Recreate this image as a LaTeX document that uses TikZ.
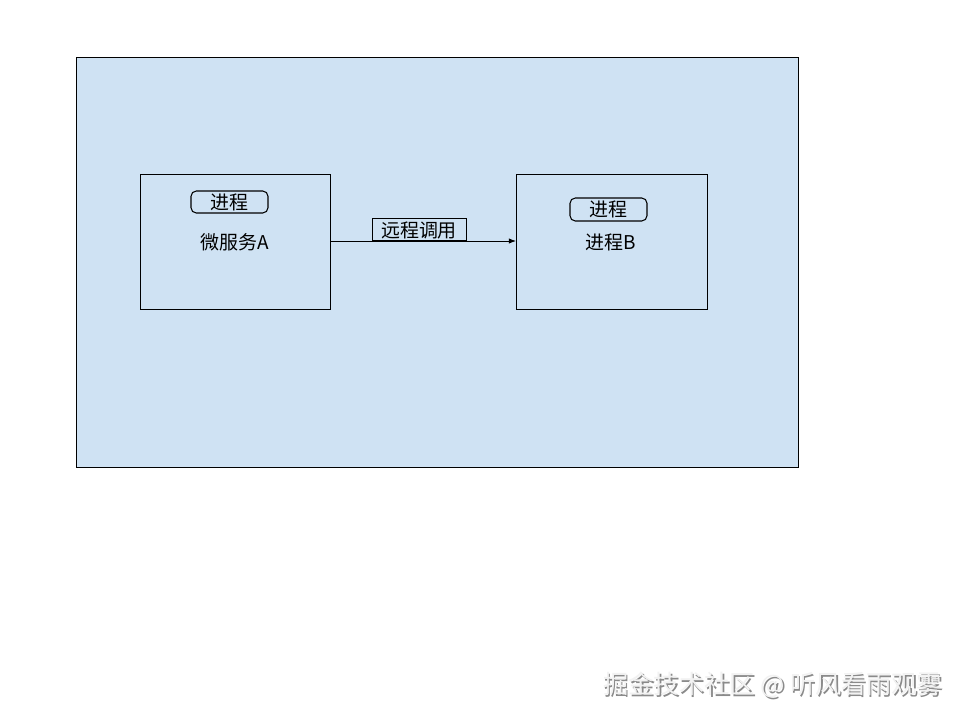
\documentclass[tikz,border=0pt]{standalone}
\usepackage{fontspec}
\setmainfont{Noto Sans CJK SC}
\newfontfamily\cjk{Noto Sans CJK SC}
\usetikzlibrary{arrows.meta}
\definecolor{bgblue}{HTML}{CFE2F3}
\definecolor{wmgray}{HTML}{8A8A8A}
\definecolor{wmlight}{HTML}{F2F2F2}
\tikzset{
  boxframe/.style={draw=black, line width=0.6pt},
  procbox/.style={draw=black, line width=0.6pt, rounded corners=3pt},
  lbl/.style={font=\cjk\fontsize{10.8}{12}\selectfont, inner sep=0pt},
  conn/.style={draw=black, line width=0.5pt, -{Latex[length=4pt,width=3pt]}},
  wm/.style={font=\cjk\fontsize{14.4}{16}\selectfont, inner sep=0pt, anchor=west}
}
\begin{document}
\begin{tikzpicture}[x=0.02cm, y=-0.02cm]
\useasboundingbox (0,0) rectangle (960,720);
\fill[white] (0,0) rectangle (960,720);
% outer container
\node[boxframe, fill=bgblue, minimum width=722*0.02cm, minimum height=410*0.02cm, anchor=north west, inner sep=0pt] (outer) at (76,57) {};
% microservice A
\node[boxframe, minimum width=190*0.02cm, minimum height=135*0.02cm, anchor=north west, inner sep=0pt] (boxA) at (140,174) {};
\node[procbox, minimum width=77*0.02cm, minimum height=22*0.02cm, inner sep=0pt] (procA) at (229.5,202) {};
\node[lbl] (procAtxt) at (229.5,202) {进程};
\node[lbl] (nameA) at (235,242) {微服务A};
% process B
\node[boxframe, minimum width=191*0.02cm, minimum height=135*0.02cm, anchor=north west, inner sep=0pt] (boxB) at (516,174) {};
\node[procbox, minimum width=77*0.02cm, minimum height=23*0.02cm, inner sep=0pt] (procB) at (608.5,209.5) {};
\node[lbl] (procBtxt) at (608.5,209.5) {进程};
\node[lbl] (nameB) at (611,242) {进程B};
% connector
\coordinate (callstart) at (330,241);
\draw[conn] (callstart) -- (boxB.west |- callstart);
\node[boxframe, minimum width=94*0.02cm, minimum height=22*0.02cm, inner sep=0pt, anchor=south west] (callbox) at (372,241) {};
\node[lbl] (calltxt) at (419,230) {远程调用};
% watermark
\node[wm, text=wmgray] (wmshadow) at (604.5,686.5) {掘金技术社区 @ 听风看雨观雾};
\node[wm, text=wmlight] (wmtext) at (603,685) {掘金技术社区 @ 听风看雨观雾};
\end{tikzpicture}
\end{document}
